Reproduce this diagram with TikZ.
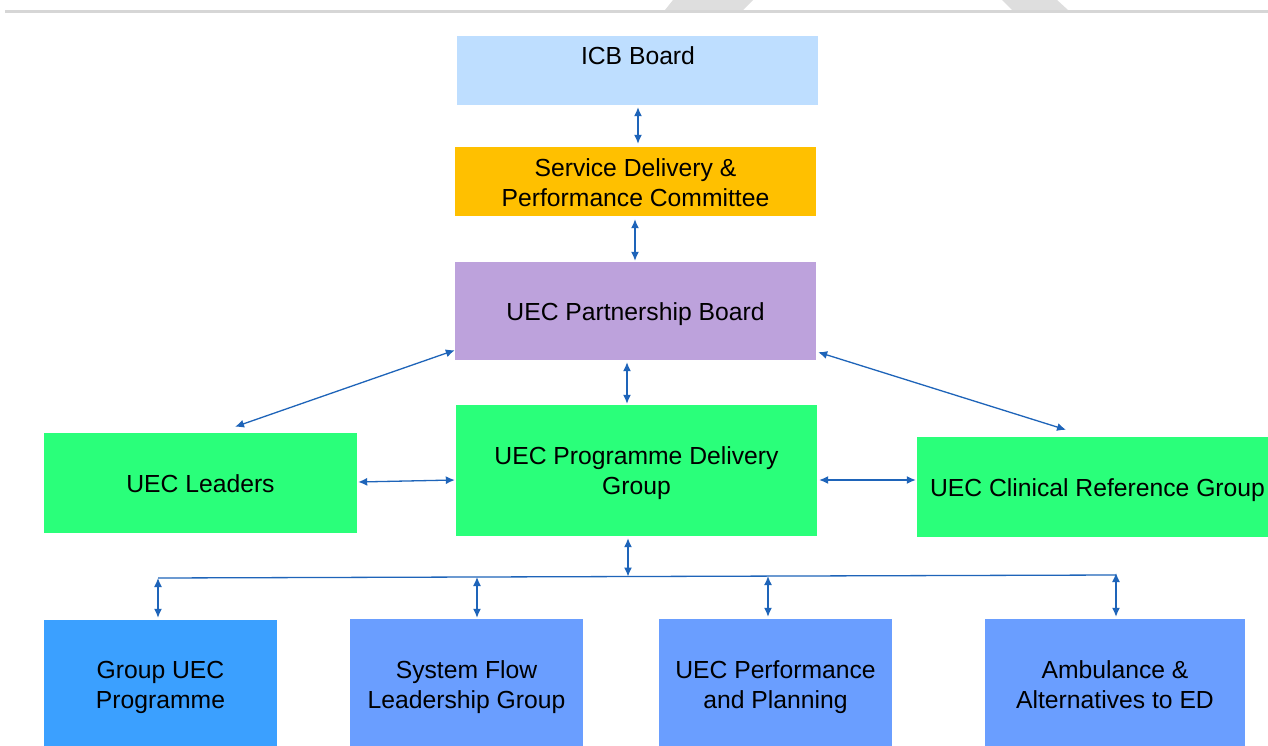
\documentclass[tikz,border=0pt]{standalone}
\usepackage{fontspec}
\setmainfont{Liberation Sans}
\usetikzlibrary{arrows.meta,calc}
\definecolor{icbc}{RGB}{190,222,255}
\definecolor{sdc}{RGB}{255,192,0}
\definecolor{pbc}{RGB}{189,162,220}
\definecolor{grn}{RGB}{42,255,122}
\definecolor{gupc}{RGB}{59,160,255}
\definecolor{bluec}{RGB}{106,158,255}
\definecolor{arrowc}{RGB}{30,100,185}
\definecolor{wmgray}{RGB}{222,222,222}
\definecolor{linegray}{RGB}{214,214,214}
\begin{document}
\begin{tikzpicture}[x=1pt,y=-1pt,
  box/.style={rectangle, inner sep=0pt},
  txt/.style={inner sep=0pt, align=center, font=\fontsize{24.7}{30}\selectfont, text=black},
  link/.style={draw=arrowc, line width=1.3pt, {Latex[length=9pt,width=8pt]}-{Latex[length=9pt,width=8pt]}},
  busline/.style={draw=arrowc, line width=1.3pt},
]
\useasboundingbox (0,0) rectangle (1268,746);
\clip (0,0) rectangle (1268,746);
\fill[white] (0,0) rectangle (1268,746);
% watermark and top rule
\fill[wmgray] (665,10) -- (673,0) -- (753,0) -- (743,10) -- cycle;
\fill[wmgray] (1002,0) -- (1057,0) -- (1068,10) -- (1012,10) -- cycle;
\fill[linegray] (5,10) rectangle (1268,13.3);

% boxes
\node[box, fill=icbc, minimum width=361pt, minimum height=69pt] (icb) at (637.5,70.5) {};
\node[box, fill=sdc, minimum width=361pt, minimum height=69pt] (sd) at (635.5,181.5) {};
\node[box, fill=pbc, minimum width=361pt, minimum height=98pt] (pb) at (635.5,311) {};
\node[box, fill=grn, minimum width=361pt, minimum height=131pt] (pdg) at (636.5,470.5) {};
\node[box, fill=grn, minimum width=313pt, minimum height=100pt] (leaders) at (200.5,483) {};
\node[box, fill=grn, minimum width=351pt, minimum height=100pt] (clin) at (1092.5,487) {};
\node[box, fill=gupc, minimum width=233pt, minimum height=131pt] (gup) at (160.5,685.5) {};
\node[box, fill=bluec, minimum width=233pt, minimum height=133pt] (sfl) at (466.5,685.5) {};
\node[box, fill=bluec, minimum width=233pt, minimum height=133pt] (upp) at (775.5,685.5) {};
\node[box, fill=bluec, minimum width=260pt, minimum height=133pt] (amb) at (1115,685.5) {};

% texts
\node[txt] (icbt) at (638,56) {ICB Board};
\node[txt] (sdt) at (635.5,182.5) {Service Delivery \&\\Performance Committee};
\node[txt] (pbt) at (635.5,314.5) {UEC Partnership Board};
\node[txt] (pdgt) at (636.5,473.5) {UEC Programme Delivery\\Group};
\node[txt] (leaderst) at (200.5,484) {UEC Leaders};
\node[txt] (clint) at (1097.5,490) {UEC Clinical Reference Group};
\node[txt] (gupt) at (160.5,687.5) {Group UEC\\Programme};
\node[txt] (sflt) at (466.5,687.5) {System Flow\\Leadership Group};
\node[txt] (uppt) at (775.5,687.5) {UEC Performance\\and Planning};
\node[txt] (ambt) at (1115,684.5) {Ambulance \&\\Alternatives to ED};

% connectors
\draw[link] ($(icb.south)+(0.5,2)$) -- ($(sd.north)+(2.5,-3)$);
\draw[link] ($(sd.south)+(-0.5,3)$) -- ($(pb.north)+(-0.5,-1)$);
\draw[link] ($(pb.south)+(-8.5,2)$) -- ($(pdg.north)+(-9.5,-1)$);
\draw[link] ($(pb.south west)+(0,-10)$) -- ($(leaders.north)+(34.5,-6)$);
\draw[link] ($(pb.south east)+(2,-8)$) -- ($(clin.north)+(-26.5,-7)$);
\draw[link] ($(leaders.east)+(1,-1)$) -- ($(pdg.west)+(-1,9.5)$);
\draw[link] ($(pdg.east)+(2,9.5)$) -- ($(clin.west)+(-1,-7)$);

% bus
\coordinate (busL) at (158,578);
\coordinate (busR) at (1116,575);
\coordinate (bus1) at (477,577);
\coordinate (bus2) at (628,576.5);
\coordinate (bus3) at (768,576.1);
\draw[busline] (busL) -- (busR);
\draw[link] ($(pdg.south)+(-8.5,2)$) -- (bus2);
\draw[link] (busL) -- ($(gup.north)+(-2.5,-2)$);
\draw[link] (bus1) -- ($(sfl.north)+(10.5,-1)$);
\draw[link] (bus3) -- ($(upp.north)+(-7.5,-2)$);
\draw[link] ($(busR)+(0,-2)$) -- ($(amb.north)+(1,-2)$);
\end{tikzpicture}
\end{document}
